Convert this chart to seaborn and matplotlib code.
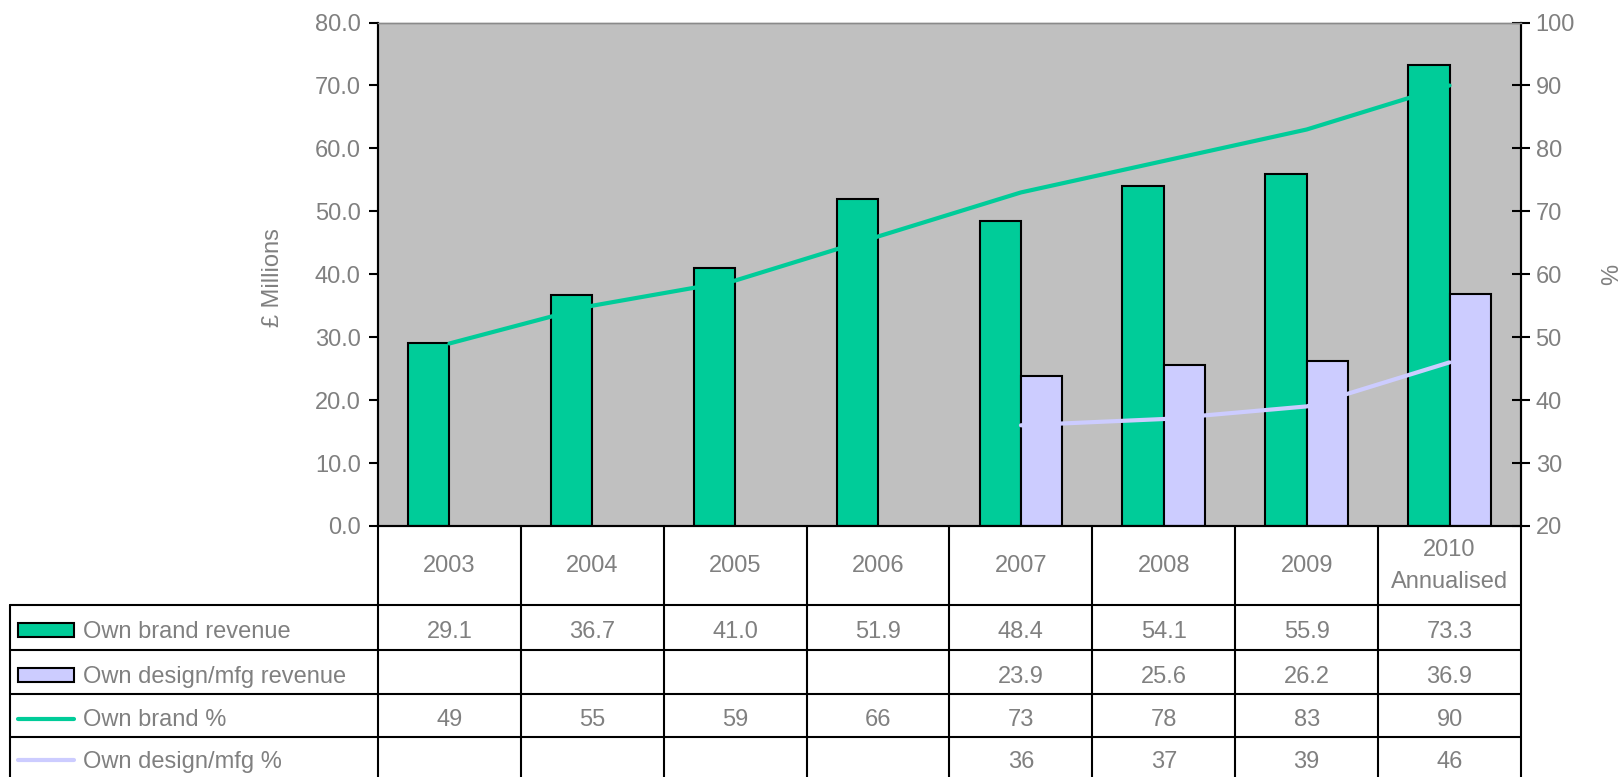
import numpy as np
import pandas as pd
import matplotlib
matplotlib.use('Agg')
import matplotlib.pyplot as plt
import seaborn as sns
from matplotlib.lines import Line2D
from matplotlib.patches import Rectangle
from matplotlib.ticker import FormatStrFormatter

# ---------------- data ----------------
categories = ['2003', '2004', '2005', '2006', '2007', '2008', '2009', '2010\nAnnualised']
own_brand_revenue = [29.1, 36.7, 41.0, 51.9, 48.4, 54.1, 55.9, 73.3]
own_design_revenue = [np.nan, np.nan, np.nan, np.nan, 23.9, 25.6, 26.2, 36.9]
own_brand_pct = [49, 55, 59, 66, 73, 78, 83, 90]
own_design_pct = [np.nan, np.nan, np.nan, np.nan, 36, 37, 39, 46]
series_names = ['Own brand revenue', 'Own design/mfg revenue', 'Own brand %', 'Own design/mfg %']

GREEN = '#00CC99'
PURPLE = '#CCCCFF'
BG = '#C0C0C0'
TXT = '#808080'
FS = 17

sns.set_theme(style='white')
plt.rcParams['font.family'] = ['Liberation Sans', 'DejaVu Sans']

W, H = 1624, 777
fig = plt.figure(figsize=(W / 100, H / 100), dpi=100)
L, R, T, B = 378, 1521, 22.5, 526
ax = fig.add_axes([L / W, 1 - B / H, (R - L) / W, (B - T) / H])

df = pd.DataFrame({
    'Year': categories * 2,
    'Series': [series_names[0]] * len(categories) + [series_names[1]] * len(categories),
    'Value': own_brand_revenue + own_design_revenue,
})
sns.barplot(data=df, x='Year', y='Value', hue='Series', order=categories,
            hue_order=series_names[:2], palette=[GREEN, PURPLE], width=0.58,
            edgecolor='black', linewidth=1.5, errorbar=None, legend=False,
            saturation=1, ax=ax)
ax.set_facecolor(BG)
ax.set_xlim(-0.5, len(categories) - 0.5)
ax.set_ylim(0, 80)
ax.set_yticks(np.arange(0, 81, 10))
ax.yaxis.set_major_formatter(FormatStrFormatter('%.1f'))
ax.set_xticks([])
ax.set_xlabel('')
ax.set_ylabel('£ Millions', color=TXT, fontsize=FS, ha='center', va='center')
ax.yaxis.set_label_coords((273 - L) / (R - L), (B - 278) / (B - T))
ax.tick_params(axis='y', direction='out', length=6.5, width=1.5, color='black',
               labelcolor=TXT, labelsize=FS, pad=6, left=True)

ax2 = ax.twinx()
x_pos = np.arange(len(categories))
sns.lineplot(x=x_pos, y=own_brand_pct, color=GREEN, linewidth=3, ax=ax2, legend=False)
sns.lineplot(x=x_pos, y=own_design_pct, color=PURPLE, linewidth=3, ax=ax2, legend=False)
ax2.set_xlim(-0.5, len(categories) - 0.5)
ax2.set_ylim(20, 100)
ax2.set_yticks(np.arange(20, 101, 10))
ax2.set_ylabel('%', color=TXT, fontsize=FS, rotation=90, ha='center', va='center')
ax2.yaxis.set_label_coords((1612 - L) / (R - L), (B - 274) / (B - T))
ax2.tick_params(axis='y', direction='inout', length=13, width=1.5, color='black',
                labelcolor=TXT, labelsize=FS, pad=4, right=True)

for a in (ax, ax2):
    for s in ('left', 'right', 'bottom'):
        a.spines[s].set_visible(True)
        a.spines[s].set_color('black')
        a.spines[s].set_linewidth(1.5)
    a.spines['top'].set_color('#8a8a8a')
    a.spines['top'].set_linewidth(1)

# ---------------- data table ----------------
tab = fig.add_axes([0, 0, 1, 1], facecolor='none')
tab.set_xlim(0, W)
tab.set_ylim(H, 0)
tab.axis('off')
lw = 1.5
col_edges = np.linspace(L, R, len(categories) + 1)
row_edges = [605, 650, 694, 737, 781]
TL = 10

for xe in col_edges:
    tab.add_line(Line2D([xe, xe], [B, H], color='black', lw=lw))
tab.add_line(Line2D([TL, TL], [row_edges[0], H], color='black', lw=lw))
for ye in row_edges[:-1]:
    tab.add_line(Line2D([TL, R], [ye, ye], color='black', lw=lw))

centers = (col_edges[:-1] + col_edges[1:]) / 2
for cx, cat in zip(centers, categories):
    tab.text(cx, 566, cat, ha='center', va='center', color=TXT, fontsize=FS,
             linespacing=1.55)

rows = [
    ([f'{v:.1f}' if not np.isnan(v) else '' for v in own_brand_revenue]),
    ([f'{v:.1f}' if not np.isnan(v) else '' for v in own_design_revenue]),
    ([f'{v:.0f}' if not np.isnan(v) else '' for v in own_brand_pct]),
    ([f'{v:.0f}' if not np.isnan(v) else '' for v in own_design_pct]),
]
for i, vals in enumerate(rows):
    yc = (row_edges[i] + row_edges[i + 1]) / 2 if i < 3 else 757
    base = yc + 11
    for cx, v in zip(centers, vals):
        tab.text(cx, base, v, ha='center', va='baseline', color=TXT, fontsize=FS)
    tab.text(83, base, series_names[i], ha='left', va='baseline', color=TXT, fontsize=FS)
    if i < 2:
        tab.add_patch(Rectangle((18, yc - 4.5), 56, 14,
                                facecolor=[GREEN, PURPLE][i], edgecolor='black', lw=1.5))
    else:
        tab.add_line(Line2D([18, 74], [yc + 3, yc + 3], color=[GREEN, PURPLE][i - 2], lw=3))

fig.savefig('out.png', dpi=100)
